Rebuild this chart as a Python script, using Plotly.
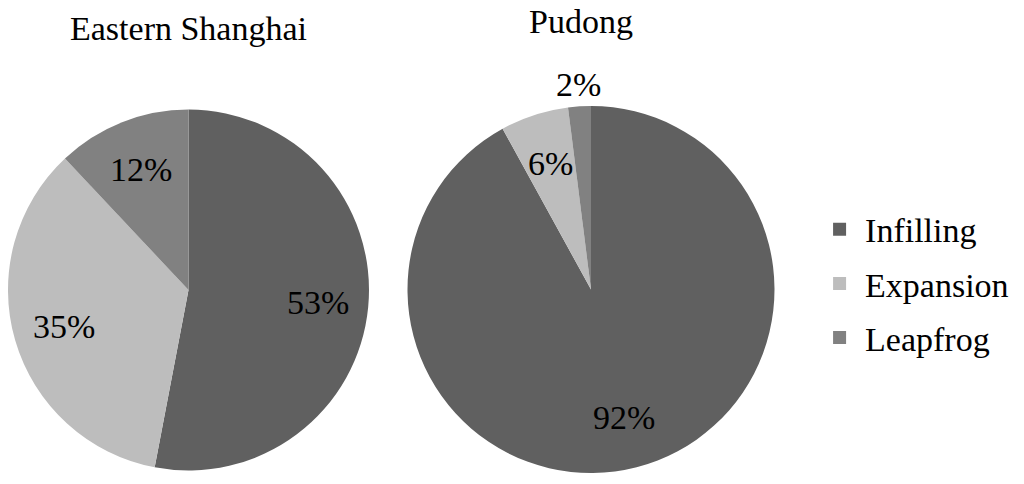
import math
import plotly.graph_objects as go

labels = ["Infilling", "Expansion", "Leapfrog"]
colors = ["#606060", "#bdbdbd", "#818181"]
titles = ["Eastern Shanghai", "Pudong"]
eastern = [53, 35, 12]
pudong = [92, 6, 2]

W, H = 1024, 484
FONT = "Liberation Serif"

# pie geometry in pixels: centre x, centre y, radius
geo = [(188.5, 290, 180.5), (591, 289.5, 183.5)]

fig = go.Figure()

for vals, (cx, cy, r) in zip([eastern, pudong], geo):
    fig.add_trace(go.Pie(
        labels=labels, values=vals, sort=False, direction="clockwise", rotation=0,
        marker=dict(colors=colors, line=dict(width=0)),
        textinfo="none", hoverinfo="label+percent", showlegend=False,
        domain=dict(x=[(cx - r) / W, (cx + r) / W], y=[(H - cy - r) / H, (H - cy + r) / H]),
    ))
    # percentage labels placed along each slice's middle angle
    total = sum(vals)
    cum = 0
    for v in vals:
        ang = math.radians(360 * (cum + v / 2) / total)
        cum += v
        f = 0.72 if v / total > 0.04 else 1.12
        px = cx + f * r * math.sin(ang)
        py = cy - f * r * math.cos(ang)
        fig.add_annotation(x=px / W, y=1 - py / H, xref="paper", yref="paper",
                           xanchor="center", yanchor="middle",
                           text=f"{round(100 * v / total)}%", showarrow=False,
                           font=dict(family=FONT, size=34, color="black"))

# titles
for t, tx, ty in zip(titles, [188, 581], [28, 22]):
    fig.add_annotation(x=tx / W, y=1 - ty / H, xref="paper", yref="paper", text=t,
                       xanchor="center", yanchor="middle",
                       showarrow=False, font=dict(family=FONT, size=34, color="black"))

# legend entries
for lab, col in zip(labels, colors):
    fig.add_trace(go.Scatter(x=[None], y=[None], mode="markers", name=lab, legendgroup=lab,
                             marker=dict(symbol="square", size=13, color=col)))

fig.update_layout(
    width=W, height=H, margin=dict(l=0, r=0, t=0, b=0),
    paper_bgcolor="white", plot_bgcolor="white",
    xaxis=dict(visible=False), yaxis=dict(visible=False),
    legend=dict(x=0.795, y=0.414, xanchor="left", yanchor="middle", tracegroupgap=7,
                font=dict(family=FONT, size=34, color="black"), itemwidth=41),
)

fig.write_html("out.html", config={"displayModeBar": False},
               post_script="document.body.style.margin='0';")
